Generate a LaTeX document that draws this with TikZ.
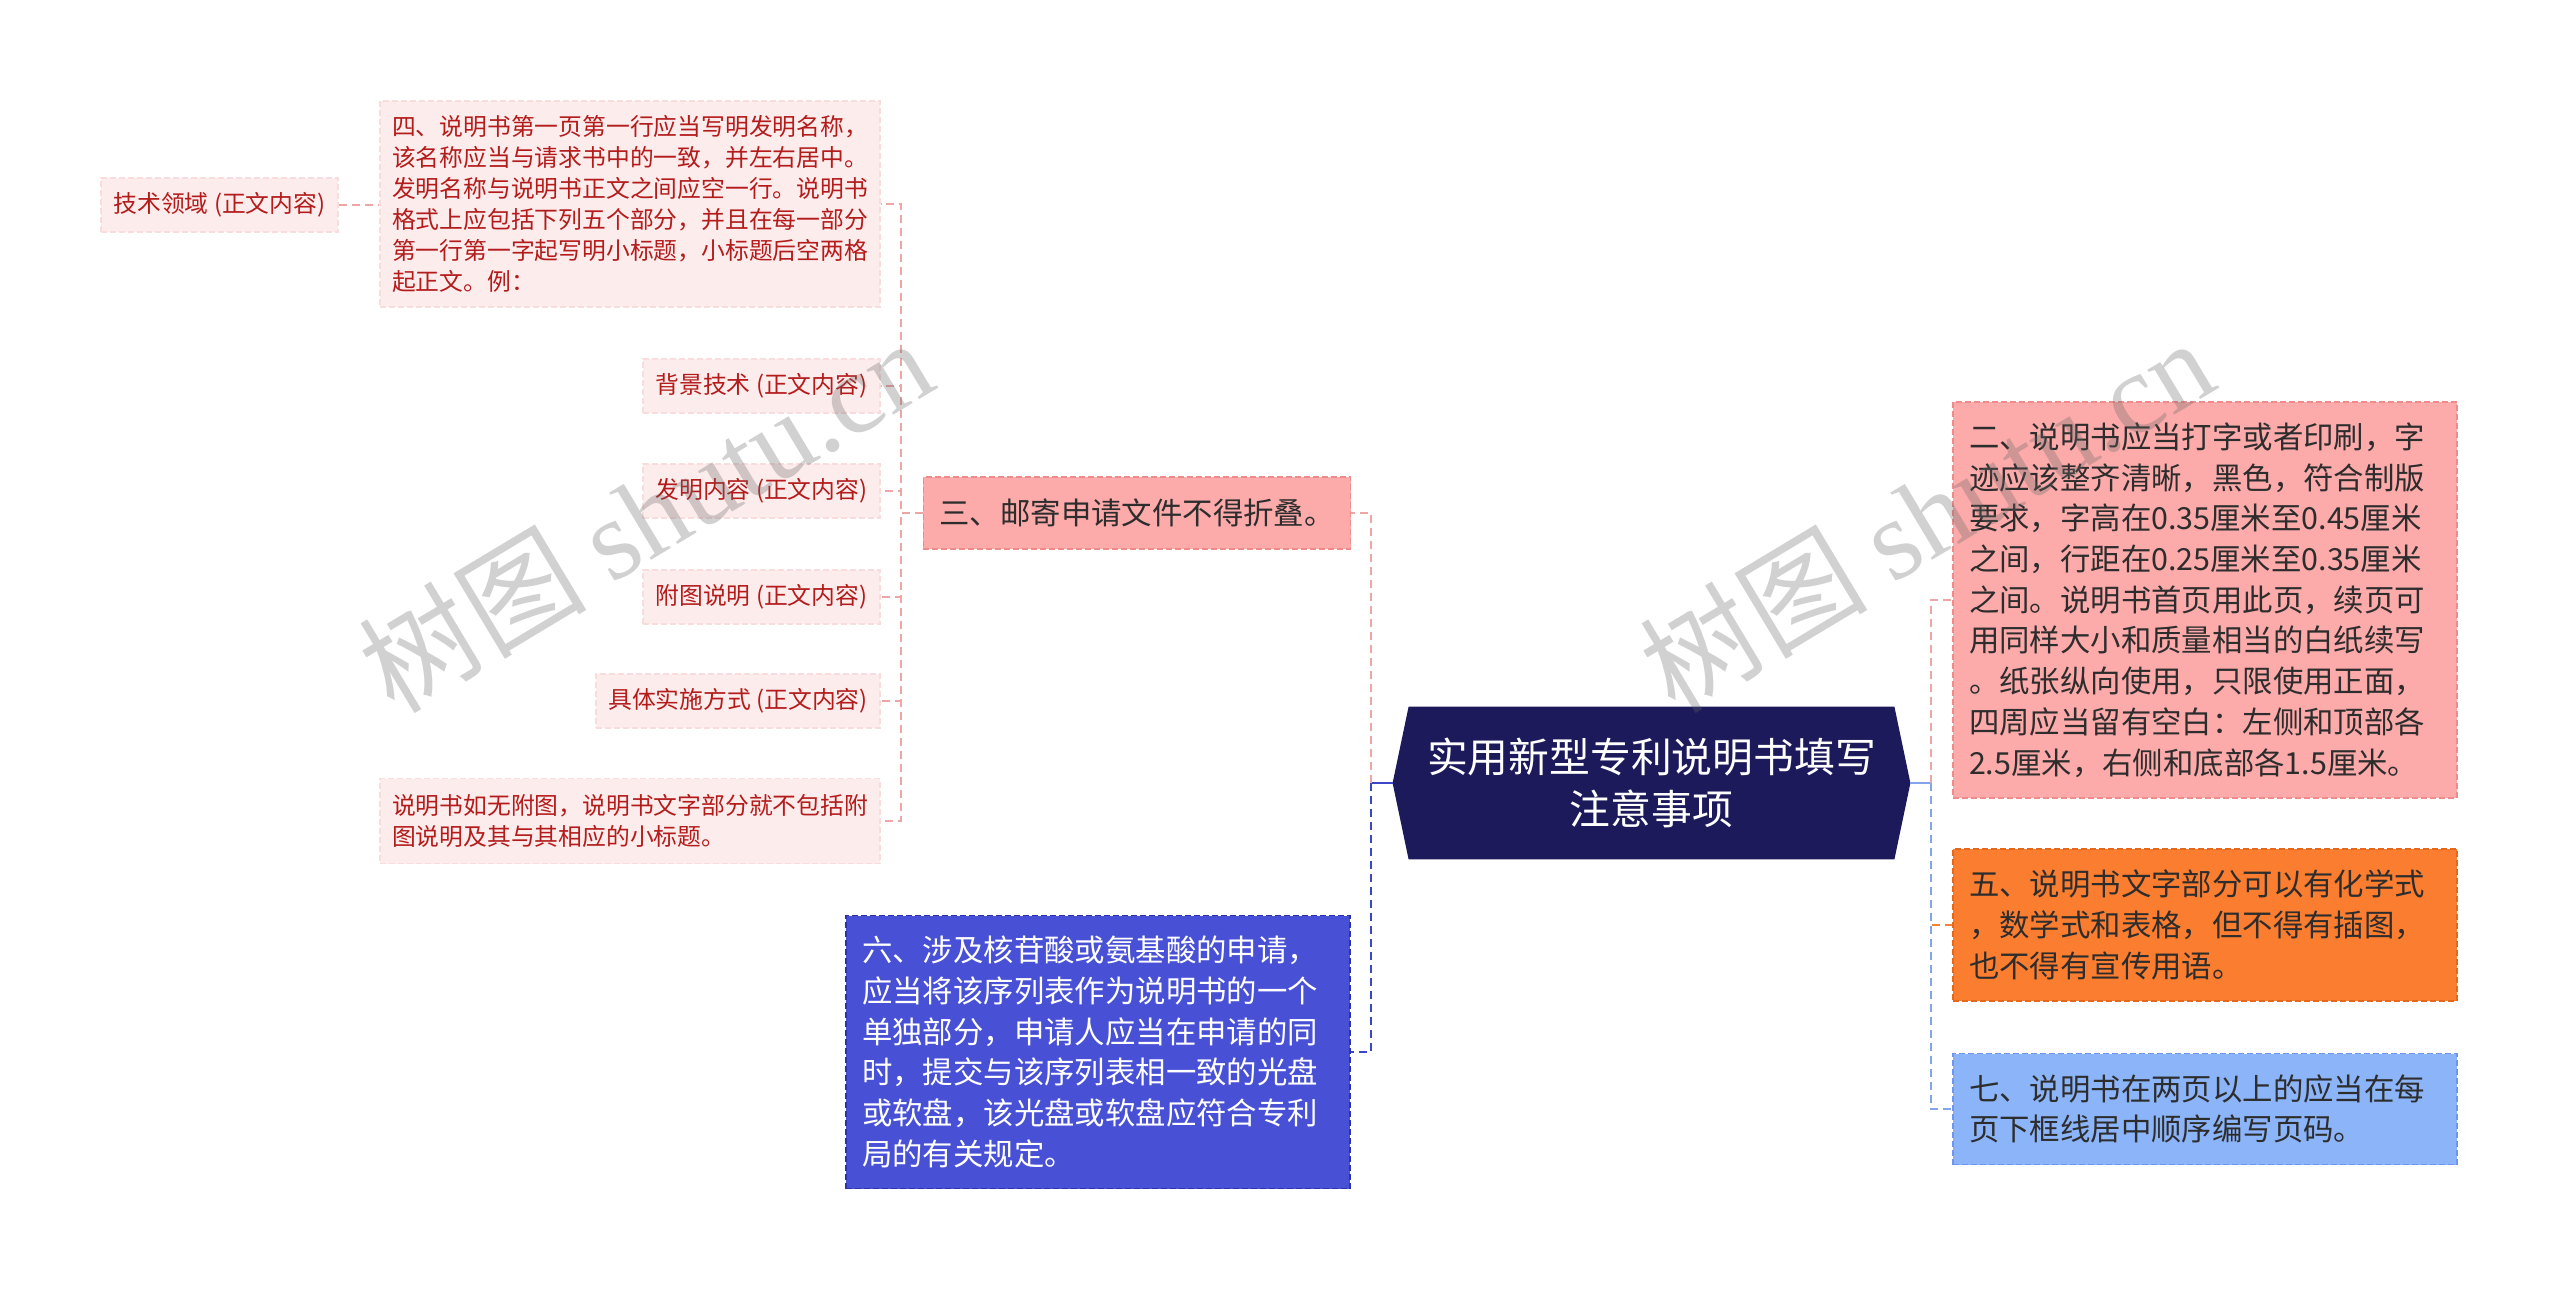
\documentclass[tikz,border=0pt]{standalone}
\usepackage{fontspec}
\setmainfont{Noto Sans CJK SC}
\newfontfamily\wmlatin{Liberation Serif}
\usetikzlibrary{backgrounds,calc}
\definecolor{darkred}{RGB}{180,28,28}
\definecolor{palepink}{RGB}{253,236,236}
\definecolor{paleborder}{RGB}{249,220,220}
\definecolor{pinkline}{RGB}{238,165,165}
\definecolor{salmon}{RGB}{252,170,170}
\definecolor{salmonborder}{RGB}{238,140,140}
\definecolor{orangefill}{RGB}{250,125,48}
\definecolor{orangeborder}{RGB}{228,105,30}
\definecolor{orangeline}{RGB}{240,130,60}
\definecolor{skyfill}{RGB}{140,180,248}
\definecolor{skyborder}{RGB}{110,150,235}
\definecolor{skyline}{RGB}{130,165,235}
\definecolor{royalfill}{RGB}{72,80,214}
\definecolor{royalborder}{RGB}{45,50,170}
\definecolor{royalline}{RGB}{60,70,200}
\definecolor{navy}{RGB}{28,26,90}
\definecolor{darktext}{RGB}{45,45,45}
\begin{document}
\begin{tikzpicture}[x=0.5pt,y=-0.5pt,
  smallbox/.style={draw=paleborder, dash pattern=on 3pt off 1.5pt, line width=0.6pt,
    fill=palepink, text=darkred, font=\fontsize{11.9}{15.5}\selectfont,
    inner xsep=6pt, inner ysep=0pt, minimum height=27pt},
  bigbox/.style={dash pattern=on 3pt off 1.5pt, line width=0.7pt,
    text=darktext, font=\fontsize{15.2}{20.35}\selectfont,
    inner xsep=8pt, inner ysep=0pt},
  conn/.style={line width=1pt, dash pattern=on 4pt off 2.5pt},
  stub/.style={line width=1.2pt},
  wmark/.style={rotate=31, text=black!60, text opacity=0.3, font=\fontsize{57}{57}\selectfont}
]
\useasboundingbox (0,0) rectangle (2560,1291);

% ---- root ----
\node[text=white, font=\fontsize{20.4}{26}\selectfont, align=center,
      minimum width=258.5pt, minimum height=76pt, inner sep=0pt] (root) at (1651.5,783)
      {实用新型专利说明书填写\\注意事项};
\begin{scope}[on background layer]
\fill[navy] ([xshift=8pt]root.north west) -- ([xshift=-8pt]root.north east) -- (root.east)
  -- ([xshift=-8pt]root.south east) -- ([xshift=8pt]root.south west) -- (root.west) -- cycle;
\end{scope}

% ---- left side ----
\node[bigbox, draw=salmonborder, fill=salmon, minimum width=213pt, minimum height=36pt] (h) at (1137,513)
  {三、邮寄申请文件不得折叠。};
\node[bigbox, draw=royalborder, fill=royalfill, text=white, text width=236pt, align=left, minimum height=136.5pt] (i) at (1098,1052)
  {六、涉及核苷酸或氨基酸的申请，\\应当将该序列表作为说明书的一个\\单独部分，申请人应当在申请的同\\时，提交与该序列表相一致的光盘\\或软盘，该光盘或软盘应符合专利\\局的有关规定。};

\node[smallbox, text width=238pt, align=left, minimum height=103pt] (a) at (630,204)
  {四、说明书第一页第一行应当写明发明名称，\\该名称应当与请求书中的一致，并左右居中。\\发明名称与说明书正文之间应空一行。说明书\\格式上应包括下列五个部分，并且在每一部分\\第一行第一字起写明小标题，小标题后空两格\\起正文。例：};
\node[smallbox, minimum width=118.5pt] (b) at (219.5,205) {技术领域 (正文内容)};
\node[smallbox, minimum width=118.5pt] (c) at (761.5,386) {背景技术 (正文内容)};
\node[smallbox, minimum width=118.5pt] (d) at (761.5,491) {发明内容 (正文内容)};
\node[smallbox, minimum width=118.5pt] (e) at (761.5,597) {附图说明 (正文内容)};
\node[smallbox, minimum width=142pt] (f) at (738,701) {具体实施方式 (正文内容)};
\node[smallbox, text width=238pt, align=left, minimum height=42.5pt] (g) at (630,821)
  {说明书如无附图，说明书文字部分就不包括附\\图说明及其与其相应的小标题。};

% ---- right side ----
\node[bigbox, draw=salmonborder, fill=salmon, text width=236pt, align=left, minimum height=198pt] (j) at (2205,600)
  {二、说明书应当打字或者印刷，字\\迹应该整齐清晰，黑色，符合制版\\要求，字高在0.35厘米至0.45厘米\\之间，行距在0.25厘米至0.35厘米\\之间。说明书首页用此页，续页可\\用同样大小和质量相当的白纸续写\\。纸张纵向使用，只限使用正面，\\四周应当留有空白：左侧和顶部各\\2.5厘米，右侧和底部各1.5厘米。};
\node[bigbox, draw=orangeborder, fill=orangefill, text width=236pt, align=left, minimum height=76pt] (k) at (2205,925)
  {五、说明书文字部分可以有化学式\\，数学式和表格，但不得有插图，\\也不得有宣传用语。};
\node[bigbox, draw=skyborder, fill=skyfill, text width=236pt, align=left, minimum height=55.5pt] (l) at (2205,1109)
  {七、说明书在两页以上的应当在每\\页下框线居中顺序编写页码。};

% ---- connectors ----
\coordinate (lj) at (1371,783);
\coordinate (rj) at (1931,783);
\coordinate (hj) at (901,513);

\draw[stub, royalline] (root.west) -- (lj);
\draw[conn, pinkline] (lj) |- (h.east);
\draw[conn, royalline] (lj) |- (i.east);

\draw[stub, skyline] (root.east) -- (rj);
\draw[conn, pinkline] (rj) |- (j.west);
\draw[conn, orangeline] (rj) |- (k.west);
\draw[conn, skyline] (rj) |- (l.west);

\foreach \n in {a,c,d,e,f,g}{
  \draw[conn, pinkline, line width=0.8pt] (h.west) -- (hj) |- (\n.east);
}
\draw[conn, pinkline, line width=0.8pt] (b.east) -- (b.east -| a.west);

% ---- watermarks ----
\node[wmark] (wm1) at (645,514) {树图 {\wmlatin shutu.cn}};
\node[wmark] (wm2) at (1926,514) {树图 {\wmlatin shutu.cn}};
\end{tikzpicture}
\end{document}
